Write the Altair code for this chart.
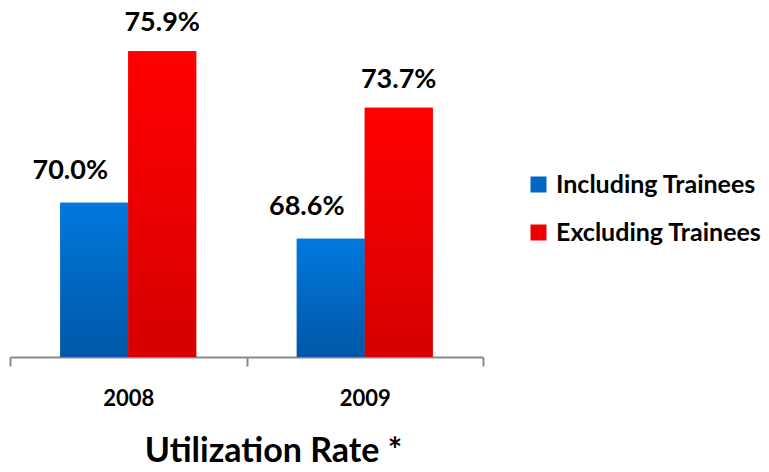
import altair as alt
import pandas as pd

years = ["2008", "2009"]
series = ["Including Trainees", "Excluding Trainees"]
including = [70.0, 68.6]
excluding = [75.9, 73.7]

rows = []
for i, yr in enumerate(years):
    rows.append({"year": yr, "series": series[0], "value": including[i]})
    rows.append({"year": yr, "series": series[1], "value": excluding[i]})
df = pd.DataFrame(rows)
df["label"] = df["value"].map(lambda v: f"{v:.1f}%")

FONT = "Lato"
solid = ["#0066c8", "#ee0000"]
grad_blue = alt.LinearGradient(
    gradient="linear", x1=0, y1=0, x2=0, y2=1,
    stops=[alt.GradientStop(color="#0079dd", offset=0),
           alt.GradientStop(color="#0057a6", offset=1)])
grad_red = alt.LinearGradient(
    gradient="linear", x1=0, y1=0, x2=0, y2=1,
    stops=[alt.GradientStop(color="#ff0000", offset=0),
           alt.GradientStop(color="#d60000", offset=1)])

x_enc = alt.X("year:N", sort=years, title=None,
              scale=alt.Scale(paddingInner=0, paddingOuter=0),
              axis=alt.Axis(labelAngle=0, labelFont=FONT, labelFontSize=22,
                            labelFontWeight="bold", labelColor="#000000",
                            labelPadding=22, tickBand="extent", tickSize=9,
                            tickColor="#8a8a8a", tickWidth=2,
                            domainColor="#8a8a8a", domainWidth=2))
xo_enc = alt.XOffset("series:N", sort=series,
                     scale=alt.Scale(paddingInner=0, paddingOuter=0.74))
y_enc = alt.Y("value:Q", title=None,
              scale=alt.Scale(domain=[64, 77], nice=False, zero=False),
              axis=None)

base = alt.Chart(df).encode(x=x_enc, xOffset=xo_enc, y=y_enc, y2=alt.datum(64))

legend_bars = base.mark_bar().encode(
    color=alt.Color("series:N", sort=series,
                    scale=alt.Scale(domain=series, range=solid),
                    legend=alt.Legend(title=None, orient="none",
                                      legendX=516, legendY=149,
                                      symbolType="square", symbolSize=256,
                                      symbolStrokeWidth=0,
                                      labelFont=FONT, labelFontSize=25,
                                      labelFontWeight="bold",
                                      labelColor="#000000", labelLimit=400,
                                      rowPadding=22, labelOffset=5)))

blue_bars = base.mark_bar(fill=grad_blue).transform_filter(
    alt.datum.series == series[0])
red_bars = base.mark_bar(fill=grad_red).transform_filter(
    alt.datum.series == series[1])

text_kw = dict(font=FONT, fontSize=27, fontWeight="bold", color="#000000",
               baseline="middle", align="center")
txt = alt.Chart(df).encode(x=x_enc, xOffset=xo_enc, y=y_enc, text="label:N")
blue_txt = txt.mark_text(dx=-24, dy=-32, **text_kw).transform_filter(
    alt.datum.series == series[0])
red_txt = txt.mark_text(dx=0, dy=-28, **text_kw).transform_filter(
    alt.datum.series == series[1])

chart = alt.layer(legend_bars, blue_bars, red_bars, blue_txt, red_txt).properties(
    width=473, height=334,
    title=alt.TitleParams("Utilization Rate *", orient="bottom", anchor="middle",
                          font=FONT, fontSize=34, fontWeight="bold",
                          color="#000000", offset=26, dx=27),
    autosize=alt.AutoSizeParams(type="none"),
    padding={"left": 10, "top": 23, "right": 286, "bottom": 115},
).configure(background="#ffffff").configure_view(stroke=None)

chart.save("out.html", embed_options={"renderer": "svg", "actions": False})
